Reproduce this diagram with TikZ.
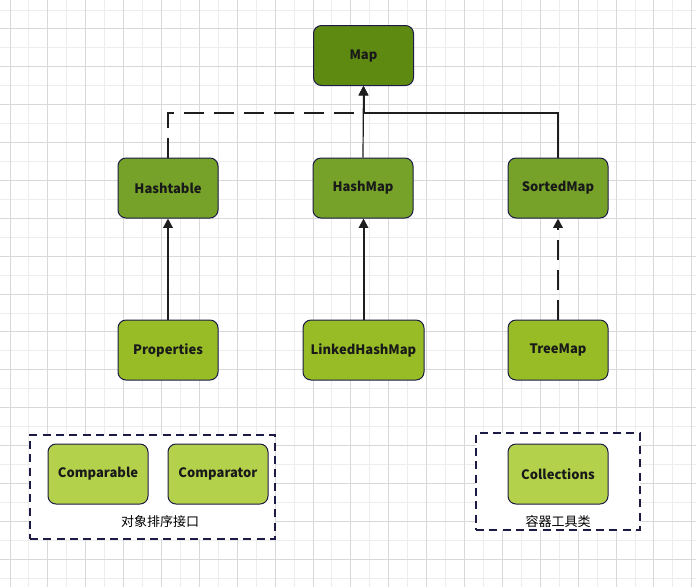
\documentclass[tikz,border=0pt]{standalone}
\usepackage{fontspec}
\setmainfont{Noto Sans CJK SC}
\usetikzlibrary{arrows.meta}
\definecolor{gridlight}{HTML}{EDEDED}
\definecolor{griddark}{HTML}{D8D8D8}
\definecolor{cmap}{HTML}{5E8A12}
\definecolor{cmid}{HTML}{76A22A}
\definecolor{clow}{HTML}{97BC26}
\definecolor{clight}{HTML}{B4D14C}
\definecolor{edgeblue}{HTML}{1B1B45}
\definecolor{linec}{HTML}{1E1E1E}
\tikzset{
  cls/.style={draw=edgeblue, line width=0.75pt, rounded corners=6pt, minimum width=75pt, minimum height=45pt, inner sep=0pt, font=\fontsize{9.75pt}{11pt}\selectfont\bfseries, text=black!90},
  topbox/.style={cls, fill=cmap},
  midbox/.style={cls, fill=cmid},
  lowbox/.style={cls, fill=clow},
  utilbox/.style={cls, fill=clight},
  grp/.style={draw=edgeblue, line width=0.9pt, dash pattern=on 6pt off 4pt},
  inh/.style={draw=linec, line width=1.5pt, -{Triangle[width=7pt,length=7pt]}},
  inhthin/.style={draw=linec, line width=0.9pt, -{Triangle[width=7pt,length=7pt]}},
  dashln/.style={dash pattern=on 15pt off 7.5pt},
  lbl/.style={font=\fontsize{9.75pt}{11pt}\selectfont, inner sep=0pt}
}
\begin{document}
\begin{tikzpicture}[x=0.75pt,y=-0.75pt]
\fill[white] (0,0) rectangle (696,587);
\useasboundingbox (0,0) rectangle (696,587);
% grid
\foreach \i in {0,...,18} {
  \pgfmathsetmacro\xx{28.94+37.88*\i}
  \draw[gridlight, line width=0.75pt] (\xx,0) -- (\xx,587);
  \pgfmathsetmacro\yy{10+37.88*\i}
  \draw[gridlight, line width=0.75pt] (0,\yy) -- (696,\yy);
}
\foreach \i in {0,...,18} {
  \pgfmathsetmacro\xx{10+37.88*\i}
  \draw[griddark, line width=0.75pt] (\xx,0) -- (\xx,587);
  \pgfmathsetmacro\yy{28.94+37.88*\i}
  \draw[griddark, line width=0.75pt] (0,\yy) -- (696,\yy);
}
% group boxes
\node[grp, fill=white, minimum width=183.75pt, minimum height=78pt, inner sep=0pt] (g1) at (152.5,487) {};
\node[grp, fill=white, minimum width=123pt, minimum height=72.75pt, inner sep=0pt] (g2) at (558,481.5) {};
% nodes
\node[topbox] (map) at (363.5,55.5) {Map};
\node[midbox] (ht) at (168,188) {Hashtable};
\node[midbox] (hm) at (363,188) {HashMap};
\node[midbox] (sm) at (558,188) {SortedMap};
\node[lowbox] (pr) at (168,350) {Properties};
\node[lowbox, minimum width=90.75pt] (lhm) at (363.5,350) {LinkedHashMap};
\node[lowbox] (tm) at (558,350) {TreeMap};
\node[utilbox] (cmpb) at (98,474) {Comparable};
\node[utilbox] (cmpt) at (218,474) {Comparator};
\node[utilbox] (coll) at (558,474) {Collections};
\node[lbl] (l1) at (160,522) {对象排序接口};
\node[lbl] (l2) at (558,522) {容器工具类};
% junction level
\coordinate (jy) at (0,113);
% connectors
\draw[inh, dashln] (ht.north) -- (ht.north |- jy) -- (map.south |- jy) -- (map.south);
\draw[inh] (sm.north) -- (sm.north |- jy) -- (map.south |- jy) -- (map.south);
\draw[inhthin] (hm.north) -- (map.south);
\draw[inh] (pr.north) -- (ht.south);
\draw[inh] (lhm.north) -- (lhm.north |- hm.south);
\draw[inh, dashln] (tm.north) -- (sm.south);
\end{tikzpicture}
\end{document}
